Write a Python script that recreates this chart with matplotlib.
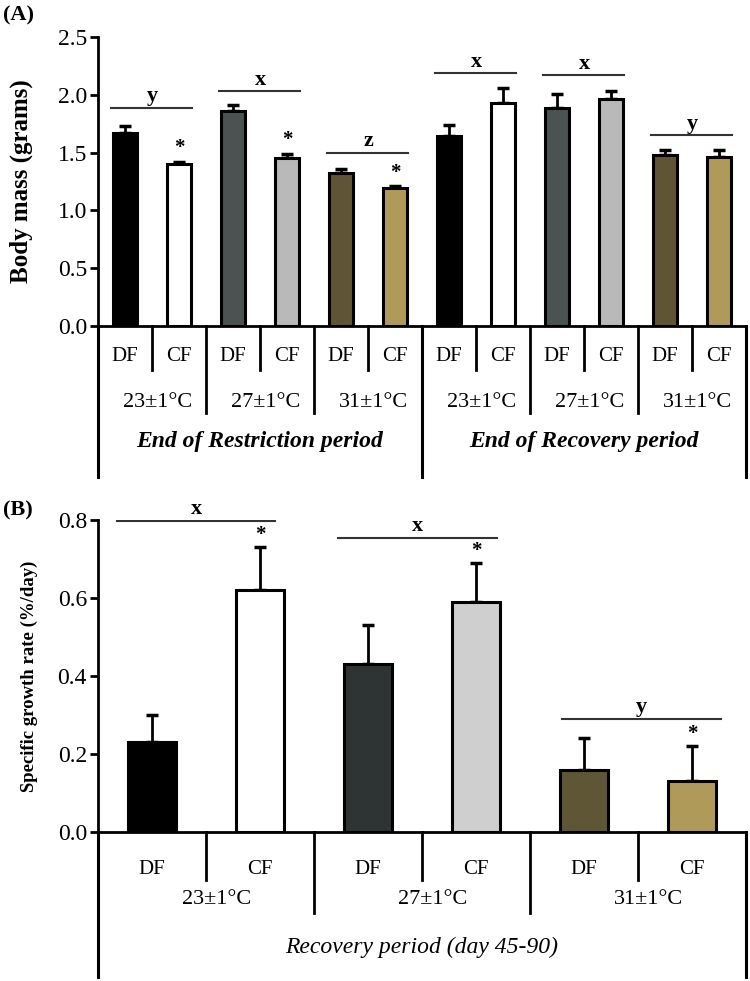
import numpy as np
import matplotlib
matplotlib.use("Agg")
import matplotlib.pyplot as plt
from matplotlib.transforms import blended_transform_factory

plt.rcParams['font.family'] = 'Liberation Serif'
plt.rcParams['mathtext.fontset'] = 'stix'

# ---- data: panel A, body mass (grams)
mass_groups = ["DF", "CF"] * 6
mass_temps = ["23\u00b11\u00b0C", "27\u00b11\u00b0C", "31\u00b11\u00b0C"] * 2
mass_periods = ["End of Restriction period", "End of Recovery period"]
mass_mean = [1.67, 1.40, 1.86, 1.45, 1.32, 1.19,
             1.64, 1.93, 1.89, 1.96, 1.48, 1.46]
mass_err = [0.06, 0.02, 0.05, 0.04, 0.04, 0.02,
            0.10, 0.13, 0.12, 0.07, 0.04, 0.06]
mass_letters = ["y", "x", "z", "x", "x", "y"]
mass_letter_y = [1.89, 2.03, 1.50, 2.19, 2.17, 1.65]
mass_star = [False, True, False, True, False, True,
             False, False, False, False, False, False]

# ---- data: panel B, specific growth rate (%/day)
sgr_groups = ["DF", "CF"] * 3
sgr_temps = ["23\u00b11\u00b0C", "27\u00b11\u00b0C", "31\u00b11\u00b0C"]
sgr_period = "Recovery period (day 45-90)"
sgr_mean = [0.23, 0.62, 0.43, 0.59, 0.16, 0.13]
sgr_err = [0.07, 0.11, 0.10, 0.10, 0.08, 0.09]
sgr_letters = ["x", "x", "y"]
sgr_letter_y = [0.797, 0.754, 0.29]
sgr_star = [False, True, False, True, False, True]

colors_a = ["#000000", "#ffffff", "#4b5352", "#b9b9b9", "#5f5535", "#b09a5a"] * 2
colors_b = ["#000000", "#ffffff", "#2e3434", "#cfcfcf", "#5f5636", "#b09a5a"]

W, H = 750, 981
fig = plt.figure(figsize=(7.5, 9.81), dpi=100)


def fy(py):
    return 1 - py / H


def style_axis(ax):
    for s in ["top", "right", "bottom"]:
        ax.spines[s].set_visible(False)
    ax.spines["left"].set_linewidth(2.0)
    ax.set_xticks([])
    ax.tick_params(axis="y", direction="out", length=6, width=2, labelsize=17, pad=2)


def draw_bars(ax, x, mean, err, colors):
    ax.bar(x, mean, width=0.45, color=colors, edgecolor="black", linewidth=2.2, zorder=3)
    ax.errorbar(x, mean, yerr=[np.zeros(len(err)), err], fmt="none", ecolor="black",
                elinewidth=2, capsize=4, capthick=2.5, zorder=2)


# ================= panel A =================
axA = fig.add_axes([98 / W, fy(326), 648 / W, (326 - 37) / H])
xa = np.arange(len(mass_mean))
draw_bars(axA, xa, mass_mean, mass_err, colors_a)
axA.set_xlim(-0.5, len(mass_mean) - 0.5)
axA.set_ylim(0, 2.5)
axA.set_yticks([0.0, 0.5, 1.0, 1.5, 2.0, 2.5])
axA.set_yticklabels(["0.0", "0.5", "1.0", "1.5", "2.0", "2.5"])
style_axis(axA)
axA.set_ylabel("Body mass (grams)", fontsize=18, fontweight="bold")
axA.yaxis.set_label_coords(-0.100, 0.5)

# significance lines and letters
for i, (lt, ly) in enumerate(zip(mass_letters, mass_letter_y)):
    g = 2 * i
    axA.plot([g - 0.26, g + 1.24], [ly, ly], color="#333333", lw=1.5, zorder=4)
    axA.text(g + 0.5, ly + 0.01, lt, ha="center", va="bottom", fontsize=16, fontweight="bold")
for i, s in enumerate(mass_star):
    if s:
        axA.text(xa[i], mass_mean[i] + mass_err[i] + 0.03, "*", ha="center", va="bottom",
                 fontsize=15, fontweight="bold")

# category rows under axis A
trA = blended_transform_factory(axA.transData, fig.transFigure)
axA.plot([-0.5, 11.5], [fy(326), fy(326)], transform=trA, color="black", lw=2, clip_on=False)
for xv in [0.5, 2.5, 4.5, 6.5, 8.5, 10.5]:
    axA.plot([xv, xv], [fy(326), fy(370)], transform=trA, color="black", lw=2, clip_on=False)
for xv in [1.5, 3.5, 7.5, 9.5]:
    axA.plot([xv, xv], [fy(326), fy(413)], transform=trA, color="black", lw=2, clip_on=False)
for xv in [-0.5, 5.5, 11.5]:
    axA.plot([xv, xv], [fy(326), fy(477)], transform=trA, color="black", lw=2.2, clip_on=False)
for i, g in enumerate(mass_groups):
    axA.text(xa[i], fy(356), g, transform=trA, ha="center", va="center", fontsize=15)
for i, t in enumerate(mass_temps):
    axA.text(2 * i + 0.6, fy(402), t, transform=trA, ha="center", va="center", fontsize=16)
for i, p in enumerate(mass_periods):
    axA.text(6 * i + 2.5, fy(442), p, transform=trA, ha="center", va="center", fontsize=17,
             fontstyle="italic", fontweight="bold")

fig.text(0.004, fy(15), "(A)", ha="left", va="center", fontsize=16, fontweight="bold")

# ================= panel B =================
axB = fig.add_axes([98 / W, fy(832), 648 / W, (832 - 520) / H])
xb = np.arange(len(sgr_mean))
draw_bars(axB, xb, sgr_mean, sgr_err, colors_b)
axB.set_xlim(-0.5, len(sgr_mean) - 0.5)
axB.set_ylim(0, 0.8)
axB.set_yticks([0.0, 0.2, 0.4, 0.6, 0.8])
axB.set_yticklabels(["0.0", "0.2", "0.4", "0.6", "0.8"])
style_axis(axB)
axB.set_ylabel("Specific growth rate (%/day)", fontsize=13.5, fontweight="bold")
axB.yaxis.set_label_coords(-0.093, 0.5)

sgr_spans = [(-0.32, 1.14), (1.72, 3.19), (3.80, 5.27)]
for (x0, x1), lt, ly in zip(sgr_spans, sgr_letters, sgr_letter_y):
    axB.plot([x0, x1], [ly, ly], color="#333333", lw=1.5, zorder=4)
    axB.text((x0 + x1) / 2, ly + 0.005, lt, ha="center", va="bottom", fontsize=16, fontweight="bold")
for i, s in enumerate(sgr_star):
    if s:
        axB.text(xb[i], sgr_mean[i] + sgr_err[i] + 0.006, "*", ha="center", va="bottom",
                 fontsize=15, fontweight="bold")

trB = blended_transform_factory(axB.transData, fig.transFigure)
axB.plot([-0.5, 5.5], [fy(832), fy(832)], transform=trB, color="black", lw=2, clip_on=False)
for xv in [0.5, 2.5, 4.5]:
    axB.plot([xv, xv], [fy(832), fy(880)], transform=trB, color="black", lw=2, clip_on=False)
for xv in [1.5, 3.5]:
    axB.plot([xv, xv], [fy(832), fy(913)], transform=trB, color="black", lw=2, clip_on=False)
for xv in [-0.5, 5.5]:
    axB.plot([xv, xv], [fy(832), fy(977)], transform=trB, color="black", lw=2.2, clip_on=False)
for i, g in enumerate(sgr_groups):
    axB.text(xb[i], fy(870), g, transform=trB, ha="center", va="center", fontsize=15)
for i, t in enumerate(sgr_temps):
    axB.text(2 * i + 0.6, fy(899), t, transform=trB, ha="center", va="center", fontsize=16)
axB.text(2.5, fy(947), sgr_period, transform=trB, ha="center", va="center", fontsize=17,
         fontstyle="italic")

fig.text(0.004, fy(510), "(B)", ha="left", va="center", fontsize=16, fontweight="bold")

fig.savefig("out.png", dpi=100)
